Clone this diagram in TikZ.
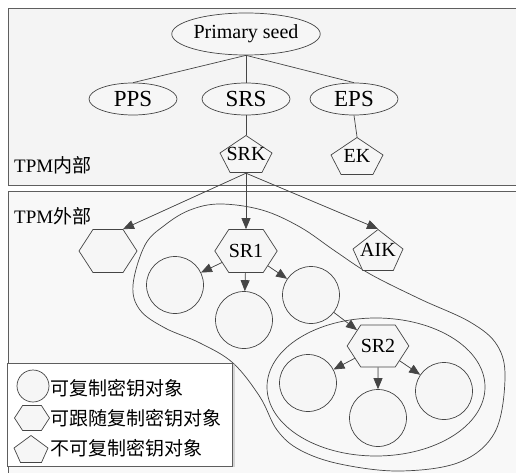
\documentclass[tikz,border=0pt]{standalone}
\usepackage{fontspec}
\setmainfont{Liberation Serif}
\newfontfamily\latinfont{Liberation Serif}
\newfontfamily\cjkfont{Noto Sans CJK SC}
\usetikzlibrary{
  arrows.meta,
  shapes.geometric,
  shapes.symbols,
  calc,
  shadows
}
\definecolor{kmLine}{HTML}{454545}
\definecolor{kmPanel}{HTML}{5E5E5E}
\definecolor{kmFill}{HTML}{F6F6F6}
\definecolor{kmBack}{HTML}{F4F4F4}
\tikzset{
  kmnode/.style={
    draw=kmLine, line width=0.7pt, fill=kmFill,
    inner sep=0pt, font=\latinfont\fontsize{20}{22}\selectfont, align=center
  },
  seed/.style={kmnode, ellipse, minimum width=88pt, minimum height=32pt,
    font=\latinfont\fontsize{23}{25}\selectfont},
  keyobj/.style={kmnode, circle, minimum size=57pt},
  followobj/.style={kmnode, signal, signal to=west and east,
    signal pointer angle=114, minimum width=58pt, minimum height=43pt},
  fixedobj/.style={
    inner sep=0pt, minimum width=53pt, minimum height=38pt,
    font=\latinfont\fontsize{20}{22}\selectfont,
    path picture={
      \filldraw[fill=kmFill, draw=kmLine, line width=0.7pt]
        ($(path picture bounding box.north)+(0pt,-0.5pt)$)
        -- ($(path picture bounding box.west)+(0.5pt,1pt)$)
        -- ($(path picture bounding box.south west)!0.2!(path picture bounding box.south east)+(0pt,0.5pt)$)
        -- ($(path picture bounding box.south west)!0.8!(path picture bounding box.south east)+(0pt,0.5pt)$)
        -- ($(path picture bounding box.east)+(-0.5pt,1pt)$) -- cycle;
    }
  },
  panel/.style={draw=kmPanel, line width=1pt},
  region/.style={draw=kmLine, line width=0.7pt},
  link/.style={draw=kmLine, line width=0.7pt},
  keyarrow/.style={-{Triangle[length=11pt, width=9pt]}, draw=kmLine, fill=kmLine, line width=0.7pt},
  paneltag/.style={font=\latinfont\fontsize{19}{21}\selectfont, inner sep=0pt, anchor=west},
  legendbox/.style={draw=kmPanel, line width=0.8pt, fill=white, anchor=north west,
    minimum width=225pt, minimum height=103pt,
    drop shadow={shadow xshift=3pt, shadow yshift=-1pt, fill=gray!60}},
  legendtag/.style={font=\cjkfont\fontsize{19}{21}\selectfont, inner sep=0pt, anchor=west}
}
\begin{document}
\begin{tikzpicture}[x=1pt, y=-1pt]
  \useasboundingbox (0,0) rectangle (516,473);
  \draw[panel, fill=kmBack] (8,9) rectangle (530,185);
  \draw[panel, fill=kmBack!60] (8,191) rectangle (530,490);
  \node[paneltag] (inlabel) at (14,165) {TPM{\cjkfont 内部}};
  \node[paneltag] (outlabel) at (14,216) {TPM{\cjkfont 外部}};

  \draw[region] plot[smooth cycle, tension=0.6] coordinates {
    (220,204) (262,210) (300,227) (335,251) (370,274) (420,299) (470,322)
    (497,345) (505,378) (495,432) (460,462) (400,471) (340,464) (300,450)
    (277,430) (260,397) (233,363) (200,343) (165,328) (140,310) (133,285)
    (145,245) (165,225) (190,210)};
  \draw[region] (376,387) ellipse [x radius=109pt, y radius=69pt];

  \node[kmnode, ellipse, minimum width=127pt, minimum height=42pt] (seed) at (246,34) {Primary seed};
  \node[seed] (pps) at (133,99) {PPS};
  \node[seed] (srs) at (246,99) {SRS};
  \node[seed] (eps) at (354,99) {EPS};
  \node[fixedobj] (srk) at (246,154) {SRK};
  \node[fixedobj] (ek) at (357,156) {EK};
  \draw[link] (seed.south) -- (pps.north);
  \draw[link] (seed.south) -- (srs.north);
  \draw[link] (seed.south) -- (eps.north);
  \draw[link] (srs.south) -- (srk.north);
  \draw[link] (eps.south) -- (ek.north);

  \node[followobj] (hexl) at (108,251) {};
  \node[followobj] (sr1) at (246,251) {SR1};
  \node[fixedobj, minimum width=51pt, minimum height=42pt] (aik) at (378,250) {AIK};
  \node[keyobj] (ca) at (175,285) {};
  \node[keyobj] (cb) at (244,320) {};
  \node[keyobj] (cc) at (311,295) {};
  \node[followobj, minimum width=59pt, minimum height=42pt] (sr2) at (378,346) {SR2};
  \node[keyobj] (cd) at (308,383) {};
  \node[keyobj] (ce) at (378,418) {};
  \node[keyobj] (cf) at (444,391) {};
  \draw[keyarrow] (srk.south) -- ($(hexl.north)+(15pt,0pt)$);
  \draw[keyarrow] (srk.south) -- (sr1.north);
  \draw[keyarrow] (srk.south) -- (aik.north);
  \draw[keyarrow] (sr1) -- (ca);
  \draw[keyarrow] (sr1) -- (cb);
  \draw[keyarrow] (sr1) -- (cc);
  \draw[keyarrow] (cc) -- (sr2);
  \draw[keyarrow] (sr2) -- (cd);
  \draw[keyarrow] (sr2) -- (ce);
  \draw[keyarrow] (sr2) -- (cf);

  \node[legendbox] (legend) at (7,363) {};
  \node[keyobj, minimum size=32pt] (lcirc) at (33,386) {};
  \node[followobj, minimum width=35pt, minimum height=25pt] (lhex) at (32,418) {};
  \node[fixedobj, minimum width=35pt, minimum height=28pt] (lpent) at (31,449) {};
  \node[legendtag] (tcirc) at (50,388) {可复制密钥对象};
  \node[legendtag] (thex) at (50,418) {可跟随复制密钥对象};
  \node[legendtag] (tpent) at (50,448) {不可复制密钥对象};
\end{tikzpicture}
\end{document}
